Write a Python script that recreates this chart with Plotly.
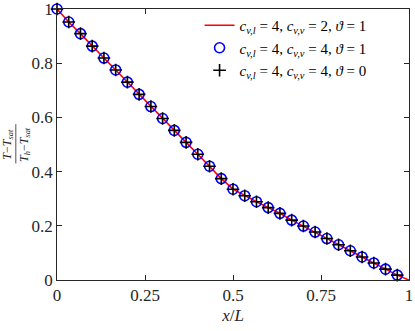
import plotly.graph_objects as go

x_markers = [0.0, 0.0333, 0.0667, 0.1, 0.1333, 0.1667, 0.2, 0.2333, 0.2667, 0.3,
             0.3333, 0.3667, 0.4, 0.4333, 0.4667, 0.5, 0.5333, 0.5667, 0.6, 0.6333,
             0.6667, 0.7, 0.7333, 0.7667, 0.8, 0.8333, 0.8667, 0.9, 0.9333, 0.9667]
theta_markers = [1.000, 0.952, 0.909, 0.863, 0.819, 0.775, 0.730, 0.685, 0.640, 0.596,
                 0.552, 0.508, 0.464, 0.420, 0.374, 0.335, 0.311, 0.289, 0.267, 0.246,
                 0.221, 0.199, 0.177, 0.153, 0.130, 0.108, 0.085, 0.063, 0.040, 0.018]

# reference solution line runs to the outlet
x_line = x_markers + [1.0]
theta_line = theta_markers + [0.0]

x_ticks = [0, 0.25, 0.5, 0.75, 1]
x_ticklabels = ["0", "0.25", "0.5", "0.75", "1"]
y_ticks = [0, 0.2, 0.4, 0.6, 0.8, 1]
y_ticklabels = ["0", "0.2", "0.4", "0.6", "0.8", "1"]

labels = [
    "<i>c</i><sub><i>v,l</i></sub> = 4, <i>c</i><sub><i>v,v</i></sub> = 2, <i>ϑ</i> = 1",
    "<i>c</i><sub><i>v,l</i></sub> = 4, <i>c</i><sub><i>v,v</i></sub> = 4, <i>ϑ</i> = 1",
    "<i>c</i><sub><i>v,l</i></sub> = 4, <i>c</i><sub><i>v,v</i></sub> = 4, <i>ϑ</i> = 0",
]

FONT = "Liberation Serif, Times New Roman, serif"
AX = "#262626"

fig = go.Figure()
fig.add_trace(go.Scatter(
    x=x_line, y=theta_line, mode="lines", name=labels[0],
    line=dict(color="#ff0000", width=1.6), cliponaxis=False,
))
fig.add_trace(go.Scatter(
    x=x_markers, y=theta_markers, mode="markers", name=labels[1],
    marker=dict(symbol="circle-open", size=10, color="#0000ff", line=dict(width=1.6)),
    cliponaxis=False,
))
fig.add_trace(go.Scatter(
    x=x_markers, y=theta_markers, mode="markers", name=labels[2],
    marker=dict(symbol="cross-thin", size=9, color="black", line=dict(width=1.6, color="black")),
    cliponaxis=False,
))

axis_style = dict(
    showline=True, linecolor=AX, linewidth=0.8, mirror="ticks",
    ticks="inside", ticklen=5, tickcolor=AX, tickwidth=0.8,
    showgrid=False, zeroline=False, automargin=False,
    ticklabeloverflow="allow",
    tickfont=dict(family=FONT, size=17, color=AX),
)

fig.update_xaxes(
    range=[0, 1], tickvals=x_ticks, ticktext=x_ticklabels,
    title=dict(text="<i>x</i>/<i>L</i>", font=dict(family=FONT, size=17, color=AX), standoff=4),
    **axis_style,
)
fig.update_yaxes(
    range=[0, 1], tickvals=y_ticks, ticktext=y_ticklabels, **axis_style,
)

# y label as a stacked fraction (no MathJax available offline)
fig.add_annotation(
    xref="paper", yref="paper", x=-0.116, y=0.5, xanchor="right",
    textangle=-90, showarrow=False, borderpad=0,
    text="<i>T</i>−<i>T</i><sub><i>sat</i></sub>",
    font=dict(family=FONT, size=12, color=AX),
)
fig.add_annotation(
    xref="paper", yref="paper", x=-0.118, y=0.5, xanchor="left",
    textangle=-90, showarrow=False, borderpad=0,
    text="<i>T</i><sub><i>h</i></sub>−<i>T</i><sub><i>sat</i></sub>",
    font=dict(family=FONT, size=12, color=AX),
)
fig.add_shape(
    type="line", xref="paper", yref="paper",
    x0=-0.117, x1=-0.117, y0=0.43, y1=0.575,
    line=dict(color=AX, width=0.8),
)

fig.update_layout(
    width=415, height=331,
    margin=dict(l=57, r=6, t=9, b=51, autoexpand=False),
    paper_bgcolor="white", plot_bgcolor="white",
    font=dict(family=FONT, color="black"),
    legend=dict(
        x=0.405, y=1.0, xanchor="left", yanchor="top",
        bgcolor="rgba(255,255,255,1)", borderwidth=0,
        font=dict(family=FONT, size=15, color="black"),
        tracegroupgap=0,
    ),
)

# drop the default page margin so the figure sits at the window's top-left corner
fig.write_html("out.html", config={"displayModeBar": False},
               post_script="document.body.style.margin='0';")
